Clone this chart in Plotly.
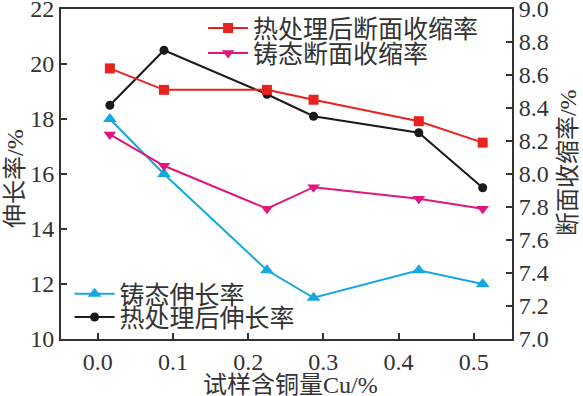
import plotly.graph_objects as go

cu = [0.016, 0.088, 0.225, 0.287, 0.427, 0.512]
ra_heat = [8.64, 8.51, 8.51, 8.45, 8.32, 8.19]
ra_cast = [8.24, 8.05, 7.79, 7.92, 7.85, 7.79]
el_cast = [18.0, 16.0, 12.5, 11.5, 12.5, 12.0]
el_heat = [18.5, 20.5, 18.9, 18.1, 17.5, 15.5]

names = ["热处理后断面收缩率", "铸态断面收缩率", "铸态伸长率", "热处理后伸长率"]
x_ticks = [0.0, 0.1, 0.2, 0.3, 0.4, 0.5]
x_title = "试样含铜量Cu/%"
y_title = "伸长率/%"
y2_title = "断面收缩率/%"

SERIF = "'Liberation Serif', 'Times New Roman', 'Noto Sans CJK SC', serif"
CJK = "'Noto Sans CJK SC', sans-serif"
AX = "#333333"
TXT = "#333333"

fig = go.Figure()
fig.add_trace(go.Scatter(x=cu, y=ra_heat, name=names[0], yaxis="y2", mode="lines+markers",
                         line=dict(color="#e8231f", width=2),
                         marker=dict(symbol="square", size=10, color="#e8231f"), legend="legend"))
fig.add_trace(go.Scatter(x=cu, y=ra_cast, name=names[1], yaxis="y2", mode="lines+markers",
                         line=dict(color="#e0167f", width=2),
                         marker=dict(symbol="triangle-down", size=11, color="#e0167f"), legend="legend3"))
fig.add_trace(go.Scatter(x=cu, y=el_cast, name=names[2], yaxis="y", mode="lines+markers",
                         line=dict(color="#14a8e0", width=2),
                         marker=dict(symbol="triangle-up", size=12, color="#14a8e0"), legend="legend2"))
fig.add_trace(go.Scatter(x=cu, y=el_heat, name=names[3], yaxis="y", mode="lines+markers",
                         line=dict(color="#1a1a1a", width=2),
                         marker=dict(symbol="circle", size=9, color="#1a1a1a"), legend="legend4"))

axis_common = dict(showline=True, linecolor=AX, linewidth=2, ticks="inside", ticklen=6,
                   tickwidth=1.5, tickcolor=AX, showgrid=False, zeroline=False, automargin=False,
                   ticklabeloverflow="allow",
                   tickfont=dict(family=SERIF, size=24, color=TXT))

def leg(x, y):
    return dict(x=x, y=y, xanchor="left", yanchor="middle", bgcolor="rgba(0,0,0,0)",
                font=dict(family=CJK, size=25, color=TXT), tracegroupgap=0, itemwidth=40)

fig.update_layout(
    width=583, height=396,
    margin=dict(l=61, r=71, t=9, b=57, autoexpand=False),
    paper_bgcolor="white", plot_bgcolor="white",
    showlegend=True,
    xaxis=dict(range=[-0.049, 0.551], tickvals=x_ticks, ticktext=[f"{v:.1f}" for v in x_ticks],
               mirror=True, **axis_common),
    yaxis=dict(range=[10, 22], dtick=2, **axis_common),
    yaxis2=dict(range=[7.0, 9.0], dtick=0.2, tickformat=".1f", overlaying="y", side="right",
                **axis_common),
    legend=leg(0.315, 0.942),
    legend3=leg(0.315, 0.866),
    legend2=leg(0.019, 0.136),
    legend4=leg(0.019, 0.066),
    annotations=[
        dict(text=x_title, xref="paper", yref="paper", x=0.508, y=-0.138, xanchor="center",
             yanchor="middle", showarrow=False, font=dict(family=SERIF, size=24, color=TXT)),
        dict(text=y_title, xref="paper", yref="paper", x=-0.102, y=0.488, xanchor="center",
             yanchor="middle", textangle=-90, showarrow=False,
             font=dict(family=SERIF, size=24, color=TXT)),
        dict(text=y2_title, xref="paper", yref="paper", x=1.124, y=0.536, xanchor="center",
             yanchor="middle", textangle=-90, showarrow=False,
             font=dict(family=SERIF, size=24, color=TXT)),
    ],
)

fig.write_html("out.html", config={"displayModeBar": False},
               post_script="document.body.style.margin='0';document.body.style.overflow='hidden';")
